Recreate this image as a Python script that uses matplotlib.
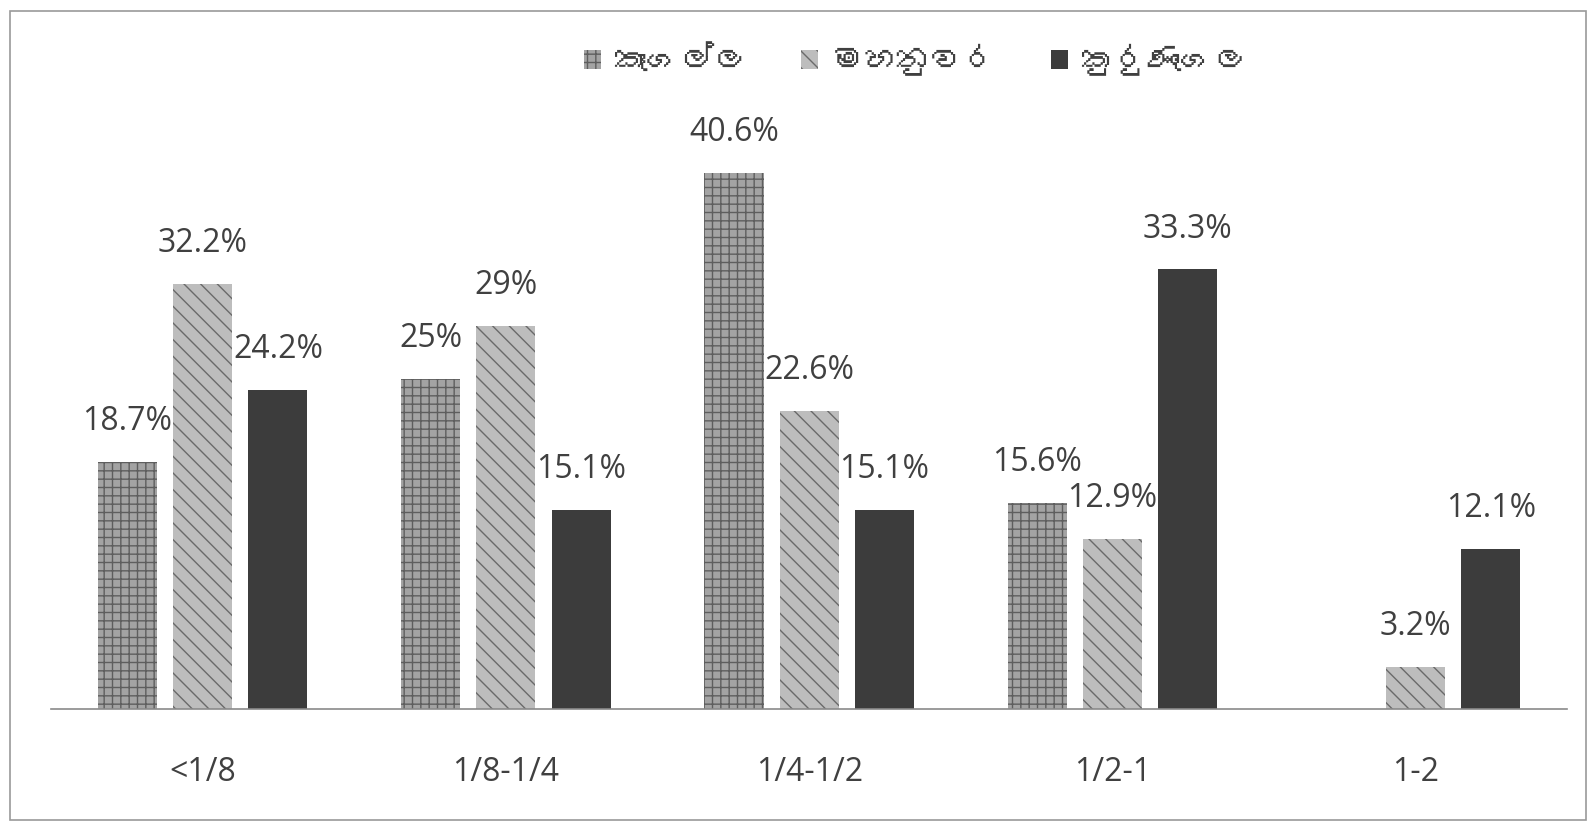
import matplotlib
matplotlib.use('Agg')
import matplotlib.pyplot as plt
from matplotlib import font_manager
from matplotlib.ft2font import FT2Font
from matplotlib.patches import Rectangle, Patch
import numpy as np

# data
categories = ['<1/8', '1/8-1/4', '1/4-1/2', '1/2-1', '1-2']
series_names = ['කෑගල්ල', 'මහනුවර', 'කුරුණෑගල']
kegalle = [18.7, 25, 40.6, 15.6, 0]
kandy = [32.2, 29, 22.6, 12.9, 3.2]
kurunegala = [24.2, 15.1, 15.1, 33.3, 12.1]

# look for a font that has Sinhala glyphs
sinhala_font = None
for f in font_manager.fontManager.ttflist:
    try:
        if 0x0D9A in FT2Font(f.fname).get_charmap():
            sinhala_font = f.name
            break
    except Exception:
        pass

base_font = 'Open Sans'
legend_family = [sinhala_font, base_font] if sinhala_font else [base_font]

fig = plt.figure(figsize=(15.96, 8.30), dpi=100)
ax = fig.add_axes([0.032, 0.146, 0.950, 0.736])

x = np.arange(len(categories))
width = 0.195
offset = 0.248
styles = [
    dict(facecolor='#a3a3a3', edgecolor='#5e5e5e', hatch='++'),
    dict(facecolor='#bdbdbd', edgecolor='#6a6a6a', hatch='\\\\'),
    dict(facecolor='#3c3c3c', edgecolor='#3c3c3c', hatch=None),
]

all_vals = [kegalle, kandy, kurunegala]
for i, (vals, st) in enumerate(zip(all_vals, styles)):
    xs = x + (i - 1) * offset
    for xi, v in zip(xs, vals):
        if v == 0:
            continue
        ax.bar(xi, v, width, facecolor=st['facecolor'], edgecolor=st['edgecolor'],
               hatch=st['hatch'], linewidth=0)
        ax.annotate(f'{v:g}%', (xi, v), xytext=(0, 29), textcoords='offset points',
                    ha='center', va='center', fontsize=23, color='#404040',
                    family=base_font)

ax.set_xlim(-0.5, 4.5)
ax.set_ylim(0, 46.3)
ax.set_xticks(x)
ax.set_xticklabels(categories, fontsize=23, color='#404040', family=base_font)
ax.tick_params(axis='x', length=0, pad=34)
ax.set_yticks([])
for s in ['top', 'left', 'right']:
    ax.spines[s].set_visible(False)
ax.spines['bottom'].set_color('#8a8a8a')
ax.spines['bottom'].set_linewidth(1.2)

handles = [Patch(facecolor=st['facecolor'], edgecolor=st['edgecolor'], hatch=st['hatch'], linewidth=0)
           for st in styles]
fig.legend(handles, series_names, loc='center', bbox_to_anchor=(0.574, 0.928), ncol=3,
           frameon=False, prop={'family': legend_family, 'size': 24},
           handlelength=0.5, handleheight=0.5, columnspacing=1.6, handletextpad=0.4,
           labelcolor='#404040')

# outer frame of the chart
fig.patches.append(Rectangle((0.006, 0.012), 0.988, 0.975, transform=fig.transFigure,
                             fill=False, edgecolor='#9a9a9a', linewidth=1.2))

fig.savefig('out.png', dpi=100)
